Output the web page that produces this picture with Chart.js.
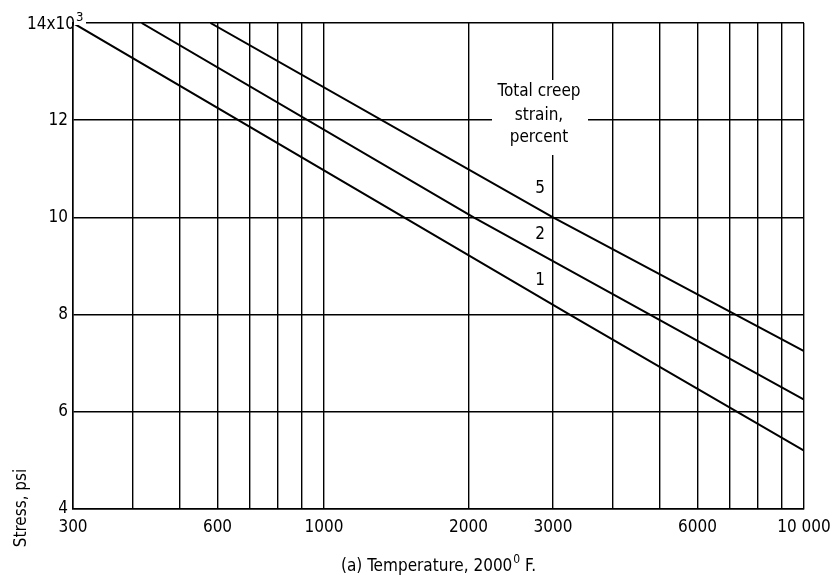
<!DOCTYPE html>
<html>
<head>
<meta charset="utf-8">
<script src="https://cdn.jsdelivr.net/npm/chart.js@4.4.1/dist/chart.umd.min.js"></script>
<style>
  html, body { margin: 0; padding: 0; background: #fff; }
  #wrap { width: 833px; height: 580px; position: relative; }
</style>
</head>
<body>
<div id="wrap"><canvas id="c" width="833" height="580"></canvas></div>
<script>
// ---- Data ----
const strainLevels = ['1', '2', '5'];               // total creep strain, percent
const line1Temp   = [300, 3250, 10000];
const line1Stress = [14, 8, 5.2];
const line2Temp   = [417, 2050, 10000];
const line2Stress = [14, 10, 6.25];
const line5Temp   = [580, 3000, 10000];
const line5Stress = [14, 10, 7.25];
const xGridValues = [300, 400, 500, 600, 700, 800, 900, 1000, 2000, 3000, 4000, 5000, 6000, 7000, 8000, 9000, 10000];
const xTickLabels = [300, 600, 1000, 2000, 3000, 6000, 10000];
const yTickValues = [4, 6, 8, 10, 12, 14];
const curveLabelX = [2820, 2820, 2820];
const curveLabelY = [8.71, 9.64, 10.6];

const FONT = '"DejaVu Sans Condensed", "Liberation Sans Narrow", sans-serif';

function pts(xs, ys) { return xs.map((x, i) => ({ x: x, y: ys[i] })); }

const overlay = {
  id: 'overlay',
  afterDatasetsDraw(chart) {
    const ctx = chart.ctx;
    const xs = chart.scales.x, ys = chart.scales.y;
    ctx.save();
    // legend box (covers grid lines)
    ctx.fillStyle = '#fff';
    ctx.fillRect(492, 80, 96, 75);
    ctx.fillStyle = '#000';
    ctx.font = '17px ' + FONT;
    ctx.textAlign = 'center';
    ctx.textBaseline = 'middle';
    ctx.fillText('Total creep', 539, 92);
    ctx.fillText('strain,', 539, 116);
    ctx.fillText('percent', 539, 138);
    // curve labels
    for (let i = 0; i < strainLevels.length; i++) {
      ctx.fillText(strainLevels[i], xs.getPixelForValue(curveLabelX[i]), ys.getPixelForValue(curveLabelY[i]));
    }
    // top y label with multiplier "14x10^3"
    const topY = ys.getPixelForValue(yTickValues[yTickValues.length - 1]);
    ctx.textAlign = 'right';
    ctx.font = '17px ' + FONT;
    ctx.fillStyle = '#fff';
    ctx.fillRect(74, topY - 2, 12, 4);
    ctx.fillStyle = '#000';
    ctx.fillText('14x10', 75, topY + 2);
    ctx.textAlign = 'left';
    ctx.font = '13px ' + FONT;
    ctx.fillText('3', 76, topY - 5);
    ctx.textAlign = 'center';
    ctx.font = '17px ' + FONT;
    // y-axis title
    ctx.save();
    ctx.translate(22, 508);
    ctx.rotate(-Math.PI / 2);
    ctx.fillText('Stress, psi', 0, 0);
    ctx.restore();
    // x-axis title with superscript 0
    const a = '(a) Temperature, 2000', b = '0', c = ' F.';
    ctx.font = '17px ' + FONT;
    const wa = ctx.measureText(a).width, wc = ctx.measureText(c).width;
    ctx.font = '12px ' + FONT;
    const wb = ctx.measureText(b).width;
    const total = wa + wb + wc;
    let x0 = 438 - total / 2;
    ctx.textAlign = 'left';
    ctx.font = '17px ' + FONT;
    ctx.fillText(a, x0, 567);
    ctx.font = '12px ' + FONT;
    ctx.fillText(b, x0 + wa + 1, 560);
    ctx.font = '17px ' + FONT;
    ctx.fillText(c, x0 + wa + wb + 1, 567);
    ctx.restore();
  }
};

const lineStyle = { borderColor: '#000', borderWidth: 2, pointRadius: 0, fill: false, tension: 0 };

new Chart(document.getElementById('c'), {
  type: 'line',
  data: {
    datasets: [
      Object.assign({ label: '1', data: pts(line1Temp, line1Stress) }, lineStyle),
      Object.assign({ label: '2', data: pts(line2Temp, line2Stress) }, lineStyle),
      Object.assign({ label: '5', data: pts(line5Temp, line5Stress) }, lineStyle)
    ]
  },
  options: {
    responsive: false,
    animation: false,
    layout: { padding: { left: 0, right: 29, top: 23, bottom: 0 } },
    plugins: { legend: { display: false }, tooltip: { enabled: false } },
    scales: {
      x: {
        type: 'logarithmic',
        min: 300, max: 10000,
        afterBuildTicks(s) { s.ticks = xGridValues.map(v => ({ value: v })); },
        afterFit(s) { s.height = 71; s.paddingLeft = 0; s.paddingRight = 0; },
        ticks: {
          autoSkip: false, maxRotation: 0, padding: 8,
          color: '#000', font: { family: FONT, size: 17 },
          callback(v) { return xTickLabels.includes(v) ? (v === 10000 ? '10 000' : String(v)) : ''; }
        },
        grid: { color: '#000', lineWidth: 1.4, drawTicks: false },
        border: { color: '#000', width: 1.5 }
      },
      y: {
        min: 4, max: 14,
        afterBuildTicks(s) { s.ticks = yTickValues.map(v => ({ value: v })); },
        afterFit(s) { s.width = 73; s.paddingTop = 0; s.paddingBottom = 0; },
        ticks: {
          padding: 5, color: '#000', font: { family: FONT, size: 17 },
          callback(v) { return v === 14 ? '' : String(v); }
        },
        grid: { color: '#000', lineWidth: 1.4, drawTicks: false },
        border: { color: '#000', width: 1.5 }
      }
    }
  },
  plugins: [overlay]
});
</script>
</body>
</html>
